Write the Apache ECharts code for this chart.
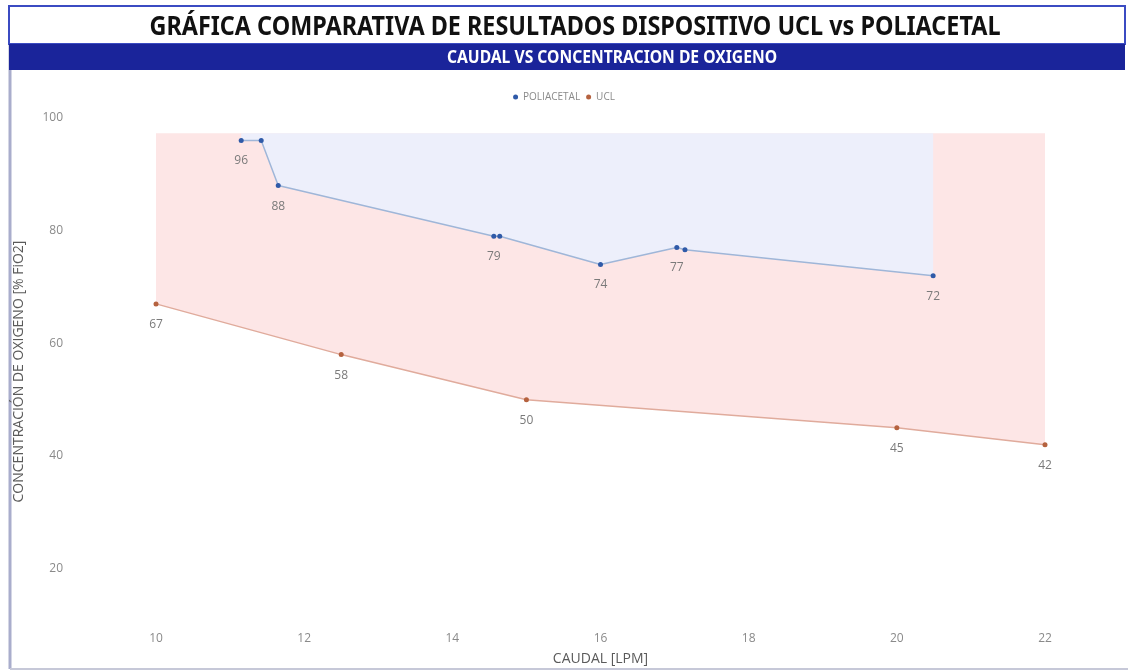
<!DOCTYPE html>
<html>
<head>
<meta charset="utf-8">
<script src="https://cdn.jsdelivr.net/npm/echarts@6/dist/echarts.min.js"></script>
<style>
  html, body { margin: 0; padding: 0; background: #ffffff; }
  #chart { width: 1128px; height: 671px; }
</style>
</head>
<body>
<div id="chart"></div>
<script>
// Caudal (LPM) vs concentración de oxígeno (% FiO2)
const poliacetalCaudal = [11.15, 11.42, 11.65, 14.56, 14.64, 16.0, 17.03, 17.14, 20.49];
const poliacetalFiO2   = [96, 96, 88, 79, 79, 74, 77, 76.6, 72];
// repeated readings close together carry a single value label
const poliacetalLabeled = [true, false, true, true, false, true, true, false, true];
const uclCaudal = [10, 12.5, 15, 20, 22];
const uclFiO2   = [67, 58, 50, 45, 42];
const yTickLabels = [20, 40, 60, 80, 100];

const headingText = 'GRÁFICA COMPARATIVA DE RESULTADOS DISPOSITIVO UCL vs POLIACETAL';
const subheadingText = 'CAUDAL VS CONCENTRACION DE OXIGENO';

const body = '"Open Sans", "Noto Sans", sans-serif';
const heavy = '"Noto Sans", "Open Sans", sans-serif';

const labelStyle = { position: 'bottom', distance: 12, fontFamily: body, fontSize: 12, color: '#7a7a7a' };

const poliacetalData = poliacetalCaudal.map((x, i) => ({
  value: [x, poliacetalFiO2[i]],
  label: { show: poliacetalLabeled[i] }
}));
const uclData = uclCaudal.map((x, i) => [x, uclFiO2[i]]);

const chart = echarts.init(document.getElementById('chart'), null, { renderer: 'canvas' });

chart.setOption({
  backgroundColor: '#ffffff',
  animation: false,
  graphic: [
    // frame: left edge and bottom edge
    { type: 'line', shape: { x1: 10, y1: 6, x2: 10, y2: 669 }, style: { stroke: '#a9adcc', lineWidth: 3 }, z: 0 },
    { type: 'line', shape: { x1: 10, y1: 669, x2: 1128, y2: 669 }, style: { stroke: '#c6c8d8', lineWidth: 2 }, z: 0 },
    // heading box
    { type: 'rect', shape: { x: 9, y: 6, width: 1116, height: 38 }, style: { fill: '#ffffff', stroke: '#3b4bc2', lineWidth: 2 }, z: 1 },
    // sub-heading band
    { type: 'rect', shape: { x: 9, y: 44, width: 1116, height: 26 }, style: { fill: '#1a249a' }, z: 1 },
    {
      type: 'text', x: 575, y: 27, scaleX: 0.866, z: 2,
      style: {
        text: headingText, fontFamily: heavy, fontWeight: 'bold', fontSize: 27,
        fill: '#111111', textAlign: 'center', textVerticalAlign: 'middle'
      }
    },
    {
      type: 'text', x: 612, y: 58, scaleX: 0.87, z: 2,
      style: {
        text: subheadingText, fontFamily: heavy, fontWeight: 'bold', fontSize: 18,
        fill: '#ffffff', textAlign: 'center', textVerticalAlign: 'middle'
      }
    }
  ],
  legend: {
    top: 87, left: 'center',
    icon: 'circle', itemWidth: 5, itemHeight: 5, itemGap: 6,
    textStyle: { fontFamily: body, fontSize: 10, color: '#8a8a8a' },
    data: ['POLIACETAL', 'UCL']
  },
  grid: { left: 156, top: 118, width: 889, height: 508, containLabel: false },
  xAxis: {
    type: 'value', min: 10, max: 22, interval: 2,
    name: 'CAUDAL [LPM]', nameLocation: 'middle', nameGap: 27,
    nameTextStyle: { fontFamily: body, fontSize: 14, color: '#5a5a5a' },
    axisLine: { show: false }, axisTick: { show: false }, splitLine: { show: false },
    axisLabel: { margin: 8, fontFamily: body, fontSize: 12, color: '#8a8a8a' }
  },
  yAxis: {
    type: 'value', min: 10, max: 100, interval: 10,
    name: 'CONCENTRACIÓN DE OXIGENO [% FiO2]', nameLocation: 'middle', nameGap: 130, nameRotate: 90,
    nameTextStyle: { fontFamily: body, fontSize: 14, color: '#5a5a5a' },
    axisLine: { show: false }, axisTick: { show: false }, splitLine: { show: false },
    axisLabel: {
      margin: 93, fontFamily: body, fontSize: 12, color: '#8a8a8a',
      formatter: v => (yTickLabels.indexOf(v) >= 0 ? String(v) : '')
    }
  },
  series: [
    {
      name: 'UCL', type: 'line', z: 2,
      data: uclData,
      symbol: 'circle', symbolSize: 5,
      itemStyle: { color: '#b5623f' },
      lineStyle: { color: '#e0ab9c', width: 1.5 },
      areaStyle: { color: '#fde6e6', opacity: 1, origin: 97.3 },
      label: Object.assign({ show: true }, labelStyle)
    },
    {
      name: 'POLIACETAL', type: 'line', z: 3,
      data: poliacetalData,
      symbol: 'circle', symbolSize: 5,
      itemStyle: { color: '#2f5aa8' },
      lineStyle: { color: '#9fb6d8', width: 1.5 },
      areaStyle: { color: '#edeffb', opacity: 1, origin: 97.3 },
      label: Object.assign({ show: true }, labelStyle)
    }
  ]
});
</script>
</body>
</html>
